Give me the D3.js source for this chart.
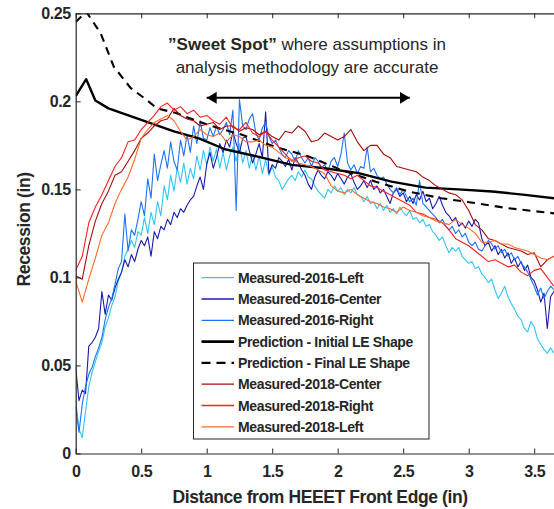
<!DOCTYPE html>
<html>
<head>
<meta charset="utf-8">
<script src="https://cdn.jsdelivr.net/npm/d3@7"></script>
<style>
body { margin: 0; background: #fff; }
text { font-family: "Liberation Sans", Arial, sans-serif; fill: #262626; }
</style>
</head>
<body>
<div id="chart"></div>
<script>
// 2016 measurements, one value every 0.025 in
var step2016 = 0.025;
var left2016 = [
  .030,.014,.009,.024,.038,.046,.052,.058,.063,.072,
  .077,.084,.089,.098,.103,.112,.116,.121,.117,.126,
  .124,.134,.125,.137,.130,.143,.135,.152,.144,.158,
  .149,.162,.154,.165,.153,.162,.156,.169,.161,.172,
  .164,.174,.166,.173,.162,.171,.161,.169,.174,.166,
  .176,.165,.172,.162,.170,.161,.169,.159,.167,.158,
  .163,.157,.155,.150,.153,.156,.158,.155,.160,.157,
  .161,.157,.156,.152,.149,.147,.145,.150,.148,.152,
  .149,.151,.147,.150,.148,.151,.147,.146,.143,.146,
  .142,.143,.139,.142,.138,.141,.137,.139,.136,.140,
  .137,.135,.138,.133,.134,.131,.133,.129,.130,.126,
  .124,.121,.123,.118,.114,.117,.115,.117,.112,.110,
  .108,.109,.105,.106,.102,.100,.097,.099,.093,.088,
  .091,.095,.089,.085,.082,.078,.076,.071,.069,.075,
  .072,.065,.062,.059,.057,.060,.057];
var center2016 = [
  .049,.030,.036,.034,.061,.063,.066,.071,.092,.079,
  .090,.087,.094,.099,.103,.110,.106,.113,.109,.116,
  .121,.118,.123,.112,.126,.122,.129,.127,.133,.130,
  .137,.134,.139,.137,.141,.144,.146,.152,.157,.150,
  .164,.171,.162,.168,.176,.171,.178,.174,.183,.176,
  .171,.179,.180,.172,.165,.170,.176,.168,.194,.159,
  .164,.162,.168,.166,.163,.167,.161,.168,.165,.161,
  .158,.153,.150,.157,.161,.158,.156,.160,.158,.155,
  .159,.156,.153,.157,.159,.154,.150,.152,.155,.151,
  .155,.150,.152,.148,.150,.146,.142,.148,.150,.146,
  .148,.143,.146,.142,.147,.144,.149,.143,.145,.139,
  .142,.146,.141,.137,.135,.132,.134,.129,.131,.128,
  .132,.129,.133,.131,.122,.118,.120,.115,.118,.113,
  .116,.111,.114,.108,.111,.106,.109,.104,.107,.100,
  .098,.093,.086,.091,.071,.089,.092];
var right2016 = [
  .027,.012,.028,.038,.045,.049,.055,.060,.066,.076,
  .083,.088,.096,.105,.109,.136,.115,.127,.124,.133,
  .143,.135,.156,.145,.170,.155,.164,.172,.162,.177,
  .166,.161,.178,.169,.181,.171,.186,.176,.189,.179,
  .178,.185,.180,.186,.181,.184,.188,.181,.195,.138,
  .201,.186,.184,.190,.193,.182,.178,.185,.188,.180,
  .176,.178,.174,.170,.168,.172,.170,.166,.172,.168,
  .165,.168,.163,.168,.166,.162,.164,.160,.166,.168,
  .163,.170,.182,.165,.161,.164,.159,.163,.162,.174,
  .160,.162,.158,.156,.157,.153,.150,.148,.151,.147,
  .150,.146,.143,.145,.141,.155,.142,.140,.138,.136,
  .134,.131,.133,.129,.127,.129,.125,.127,.123,.125,
  .120,.118,.120,.116,.115,.118,.121,.119,.116,.118,
  .114,.116,.112,.114,.110,.112,.108,.106,.103,.099,
  .095,.090,.094,.088,.092,.095,.093];

// 2018 measurements, one value every 0.05 in
var step2018 = 0.05;
var center2018 = [
  .101,.099,.118,.132,.142,.149,.158,.160,.166,.172,
  .179,.182,.186,.189,.190,.196,.192,.190,.189,.186,
  .187,.188,.184,.186,.186,.183,.185,.184,.181,.183,
  .180,.178,.183,.182,.186,.183,.177,.178,.182,.180,
  .178,.180,.184,.177,.172,.175,.175,.170,.168,.163,
  .162,.161,.160,.157,.155,.152,.150,.148,.147,.144,
  .138,.130,.127,.122,.121,.119,.117,.116,.115,.113,
  .114,.106,.110,.112];
var right2018 = [
  .104,.112,.131,.140,.147,.155,.163,.168,.177,.178,
  .184,.188,.192,.197,.199,.195,.197,.193,.195,.191,
  .192,.189,.187,.191,.185,.184,.188,.182,.180,.183,
  .178,.174,.170,.166,.168,.169,.166,.165,.161,.160,
  .159,.158,.156,.158,.155,.152,.151,.149,.147,.145,
  .143,.141,.137,.136,.134,.133,.131,.127,.122,.120,
  .118,.115,.112,.109,.110,.108,.106,.107,.103,.101,
  .104,.105,.100,.095];
var left2018 = [
  .098,.086,.099,.111,.124,.131,.142,.150,.157,.167,
  .179,.184,.188,.190,.192,.189,.183,.178,.180,.184,
  .181,.180,.182,.177,.181,.180,.177,.177,.178,.175,
  .174,.171,.168,.167,.165,.164,.163,.161,.159,.152,
  .149,.148,.150,.147,.145,.143,.142,.140,.139,.137,
  .140,.138,.137,.135,.134,.132,.131,.130,.133,.130,
  .128,.125,.120,.120,.121,.119,.119,.117,.116,.115,
  .113,.111,.110,.112];

// predictions
var predInitX = [0, .08, .15, .25, .5, .75, .94, 1.14, 1.39, 1.65, 1.9, 2.16, 2.41, 2.67, 2.92, 3.18, 3.43, 3.7];
var predInitY = [.203, .2126, .2005, .196, .1895, .1829, .179, .1728, .1686, .1639, .162, .1592, .1544, .151, .150, .1488, .1469, .1445];
var predFinalX = [0, .08, .19, .29, .42, .54, .62, .76, 1.01, 1.27, 1.52, 1.78, 2.03, 2.29, 2.54, 2.79, 3.05, 3.3, 3.7];
var predFinalY = [.245, .251, .2387, .2198, .2075, .2009, .196, .1935, .1866, .181, .1743, .1686, .161, .1544, .1488, .145, .1422, .1393, .136];

var xTicks = [0, 0.5, 1, 1.5, 2, 2.5, 3, 3.5];
var yTicks = [0, 0.05, 0.1, 0.15, 0.2, 0.25];
var sweetSpotX = [1.0, 2.55];
var sweetSpotY = 0.202;

var width = 554, height = 509;
var x = d3.scaleLinear().domain([0, 3.7]).range([75.7, 560.4]);
var y = d3.scaleLinear().domain([0, 0.25]).range([453.5, 13.3]);

function stepped(vals, step) { return vals.map(function(v, i) { return [i * step, v]; }); }
function paired(xs, ys) { return xs.map(function(v, i) { return [v, ys[i]]; }); }

var series = [
  {name: "Measured-2016-Left", pts: stepped(left2016, step2016), color: "#2ec6f6", w: 1.1},
  {name: "Measured-2016-Center", pts: stepped(center2016, step2016), color: "#1a1aad", w: 1.1},
  {name: "Measured-2016-Right", pts: stepped(right2016, step2016), color: "#1c72fa", w: 1.1},
  {name: "Prediction - Initial LE Shape", pts: paired(predInitX, predInitY), color: "#000", w: 2.4},
  {name: "Prediction - Final LE Shape", pts: paired(predFinalX, predFinalY), color: "#000", w: 2.1, dash: "8,6"},
  {name: "Measured-2018-Center", pts: stepped(center2018, step2018), color: "#a80c0c", w: 1.1},
  {name: "Measured-2018-Right", pts: stepped(right2018, step2018), color: "#fb2020", w: 1.1},
  {name: "Measured-2018-Left", pts: stepped(left2018, step2018), color: "#ff6a28", w: 1.1}
];

var svg = d3.select("#chart").append("svg")
  .attr("width", width)
  .attr("height", height)
  .style("display", "block");

svg.append("rect").attr("width", width).attr("height", height).attr("fill", "#fff");

var defs = svg.append("defs");
defs.append("clipPath").attr("id", "plotclip")
  .append("rect")
  .attr("x", x(0)).attr("y", y(0.25))
  .attr("width", x(3.7) - x(0)).attr("height", y(0) - y(0.25));

defs.append("marker")
  .attr("id", "head")
  .attr("viewBox", "0 0 10 12")
  .attr("refX", 10).attr("refY", 6)
  .attr("markerWidth", 10).attr("markerHeight", 12)
  .attr("markerUnits", "userSpaceOnUse")
  .attr("orient", "auto-start-reverse")
  .append("path").attr("d", "M0,0L10,6L0,12Z").attr("fill", "#000");

var line = d3.line()
  .x(function(d) { return x(d[0]); })
  .y(function(d) { return y(d[1]); });

var plot = svg.append("g").attr("clip-path", "url(#plotclip)");
plot.selectAll("path.series")
  .data(series)
  .enter().append("path")
  .attr("class", "series")
  .attr("d", function(d) { return line(d.pts); })
  .attr("fill", "none")
  .attr("stroke", function(d) { return d.color; })
  .attr("stroke-width", function(d) { return d.w; })
  .attr("stroke-dasharray", function(d) { return d.dash || null; })
  .attr("stroke-linejoin", "round");

// axes, ticks pointing inward
var axisColor = "#262626";
var gx = svg.append("g").attr("transform", "translate(0," + y(0) + ")")
  .call(d3.axisBottom(x).tickValues(xTicks).tickSizeInner(-5).tickSizeOuter(0).tickPadding(12)
    .tickFormat(d3.format("")));
var gt = svg.append("g").attr("transform", "translate(0," + y(0.25) + ")")
  .call(d3.axisTop(x).tickValues(xTicks).tickSizeInner(-5).tickSizeOuter(0).tickFormat(""));
var gy = svg.append("g").attr("transform", "translate(" + x(0) + ",0)")
  .call(d3.axisLeft(y).tickValues(yTicks).tickSizeInner(-5).tickSizeOuter(0).tickPadding(5)
    .tickFormat(d3.format("")));

[gx, gt, gy].forEach(function(g) {
  g.select(".domain").attr("stroke", axisColor).attr("stroke-width", 1.2);
  g.selectAll(".tick line").attr("stroke", axisColor).attr("stroke-width", 1);
  g.selectAll(".tick text")
    .attr("fill", axisColor)
    .style("font-family", '"Liberation Sans", Arial, sans-serif')
    .style("font-size", "16px")
    .style("font-weight", "bold")
    .style("letter-spacing", "-0.4px");
});

svg.append("text")
  .attr("x", (x(0) + x(3.7)) / 2 + 2)
  .attr("y", 503)
  .attr("text-anchor", "middle")
  .style("font-size", "17.5px")
  .style("font-weight", "bold")
  .style("letter-spacing", "-0.4px")
  .text("Distance from HEEET Front Edge (in)");

svg.append("text")
  .attr("transform", "translate(30," + ((y(0) + y(0.25)) / 2 - 4) + ") rotate(-90)")
  .attr("text-anchor", "middle")
  .style("font-size", "17.5px")
  .style("font-weight", "bold")
  .style("letter-spacing", "-0.4px")
  .text("Recession (in)");

// sweet spot annotation
var note = svg.append("text")
  .attr("x", 307).attr("y", 50)
  .attr("text-anchor", "middle")
  .style("font-size", "17px")
  .attr("fill", "#1a1a1a");
note.append("tspan").style("font-weight", "bold").text("\u201DSweet Spot\u201D");
note.append("tspan").text(" where assumptions in");
svg.append("text")
  .attr("x", 307).attr("y", 73)
  .attr("text-anchor", "middle")
  .style("font-size", "17px")
  .attr("fill", "#1a1a1a")
  .text("analysis methodology are accurate");

svg.append("line")
  .attr("x1", x(sweetSpotX[0])).attr("x2", x(sweetSpotX[1]))
  .attr("y1", y(sweetSpotY)).attr("y2", y(sweetSpotY))
  .attr("stroke", "#000").attr("stroke-width", 2)
  .attr("marker-start", "url(#head)")
  .attr("marker-end", "url(#head)");

// legend
var lg = svg.append("g").attr("transform", "translate(193.5,263)");
lg.append("rect")
  .attr("width", 235.5).attr("height", 176)
  .attr("fill", "#fff").attr("stroke", axisColor).attr("stroke-width", 1);
var rows = lg.selectAll("g.row")
  .data(series)
  .enter().append("g")
  .attr("class", "row")
  .attr("transform", function(d, i) { return "translate(0," + (14.7 + i * 21.3) + ")"; });
rows.append("line")
  .attr("x1", 8).attr("x2", 40.5)
  .attr("stroke", function(d) { return d.color; })
  .attr("stroke-width", function(d) { return d.w + 0.2; })
  .attr("stroke-dasharray", function(d) { return d.dash ? "9,6" : null; });
rows.append("text")
  .attr("x", 44.5).attr("dy", "0.36em")
  .style("font-size", "14px")
  .style("font-weight", "bold")
  .style("letter-spacing", "-0.35px")
  .attr("fill", "#111")
  .text(function(d) { return d.name; });
</script>
</body>
</html>
